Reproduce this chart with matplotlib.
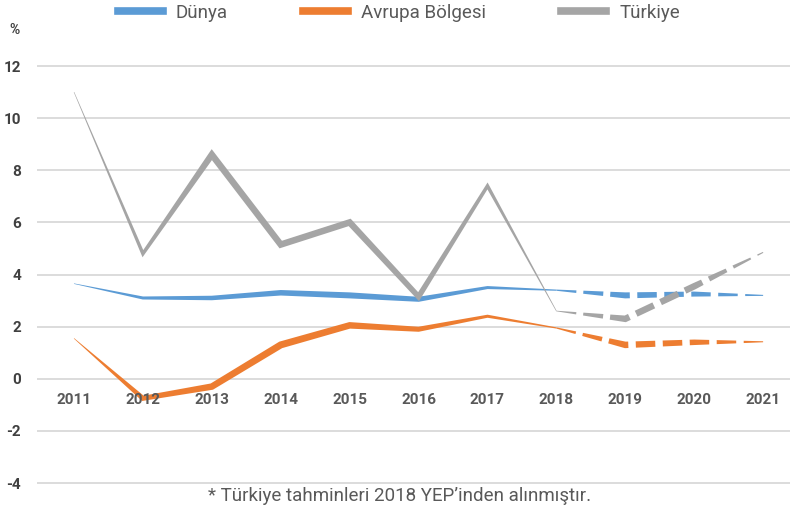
import numpy as np
import matplotlib
matplotlib.use("Agg")
import matplotlib.pyplot as plt
from matplotlib.lines import Line2D

# --- data (% growth) ---
years = [2011, 2012, 2013, 2014, 2015, 2016, 2017, 2018, 2019, 2020, 2021]
dunya = [3.65, 3.1, 3.1, 3.3, 3.2, 3.05, 3.5, 3.4, 3.2, 3.25, 3.2]
avrupa = [1.55, -0.75, -0.3, 1.3, 2.05, 1.9, 2.4, 1.95, 1.3, 1.4, 1.42]
turkiye = [11.0, 4.8, 8.6, 5.15, 6.0, 3.15, 7.4, 2.6, 2.3, 3.55, 4.85]
series_names = ["Dünya", "Avrupa Bölgesi", "Türkiye"]
yticks = [-4, -2, 0, 2, 4, 6, 8, 10, 12]
forecast_start = 2018
footnote = "* Türkiye tahminleri 2018 YEP\u2019inden alınmıştır."

# --- style ---
colors = ["#5b9bd5", "#ed7d31", "#a5a5a5"]
# stroke width (px) at each point; the original line tapers in and out
widths = [
    [0.5, 3, 4.5, 5.5, 6, 5, 3, 1.2, 6, 5, 1],
    [0.5, 5, 6.5, 7, 6.5, 5, 3, 1.2, 6.5, 5.5, 1],
    [0.5, 3.5, 6.5, 6.5, 6.5, 5.5, 3.5, 0.6, 6.5, 6.5, 1],
]
DASH, GAP = 20.0, 7.0
txt_color = "#595959"
DPI = 100

fig = plt.figure(figsize=(7.9, 5.13), dpi=DPI)
ax = fig.add_axes([37 / 790, 0.0483, 1 - 37 / 790, 0.8331])
ax.set_xlim(2010.463, 2021.39)
ax.set_ylim(-4.2, 12.2)
for s in ax.spines.values():
    s.set_visible(False)
ax.set_xticks([])
ax.set_yticks(yticks)
ax.set_yticklabels([str(t) for t in yticks], fontfamily="Roboto", fontweight="bold",
                   fontsize=11, color="#404040")
ax.tick_params(axis="y", length=0, pad=11.5)
ax.grid(axis="y", color="#d9d9d9", linewidth=1.3)
ax.set_axisbelow(True)

for yr in years:
    ax.text(yr, -0.82, str(yr), ha="center", va="center", fontfamily="Roboto",
            fontweight="bold", fontsize=11, color=txt_color)

fig.text(14 / 790, 1 - 30 / 513, "%", ha="center", va="center", fontfamily="Roboto",
         fontweight="bold", fontsize=10, color="#404040")


def tapered_line(ax, xs, ys, ws, color, dash_from):
    """Stroke a polyline whose width varies per vertex, dashed after dash_from."""
    xs = np.asarray(xs, float)
    P = ax.transData.transform(np.column_stack([xs, ys]))
    d = np.diff(P, axis=0)
    seg_len = np.hypot(d[:, 0], d[:, 1])
    tang = d / seg_len[:, None]
    nrm = np.column_stack([-tang[:, 1], tang[:, 0]])

    pts, s_all, w_all, n_all = [], [], [], []
    s0 = 0.0
    for i in range(len(P) - 1):
        ts = np.arange(0, seg_len[i], 0.5) / seg_len[i]
        for t in ts:
            if t == 0:
                if i == 0:
                    nv = nrm[0]
                else:
                    b = nrm[i - 1] + nrm[i]
                    b = b / np.hypot(*b)
                    nv = b / max(np.dot(b, nrm[i]), 0.35)
            else:
                nv = nrm[i]
            pts.append(P[i] + t * d[i])
            s_all.append(s0 + t * seg_len[i])
            w_all.append(ws[i] + t * (ws[i + 1] - ws[i]))
            n_all.append(nv)
        s0 += seg_len[i]
    pts.append(P[-1]); s_all.append(s0); w_all.append(ws[-1]); n_all.append(nrm[-1])
    pts, s_all = np.array(pts), np.array(s_all)
    w_all, n_all = np.array(w_all), np.array(n_all)

    k = list(xs).index(dash_from)
    s_dash = seg_len[:k].sum()
    runs = [s_all <= s_dash + 0.25]
    a = s_dash
    while a < s0:
        runs.append((s_all >= a) & (s_all <= a + DASH))
        a += DASH + GAP

    inv = ax.transData.inverted()
    for m in runs:
        if m.sum() < 2:
            continue
        p, w, nv = pts[m], w_all[m], n_all[m]
        left = p + nv * (w / 2)[:, None]
        right = p - nv * (w / 2)[:, None]
        poly = inv.transform(np.vstack([left, right[::-1]]))
        ax.fill(poly[:, 0], poly[:, 1], color=color, lw=0)


for vals, c, w in zip([dunya, avrupa, turkiye], colors, widths):
    tapered_line(ax, years, vals, w, c, forecast_start)

handles = [Line2D([], [], color=c, linewidth=5.5) for c in colors]
fig.legend(handles, series_names, loc="center", bbox_to_anchor=(0.505, 1 - 13 / 513),
           ncol=3, frameon=False, handlelength=2.4, handletextpad=0.7,
           columnspacing=4.0, prop={"family": "Roboto", "size": 13.5},
           labelcolor=txt_color)

fig.text(400 / 790, 1 - 496 / 513, footnote, ha="center", va="center",
         fontfamily="Roboto", fontsize=13.5, color=txt_color)

fig.savefig("out.png", dpi=DPI)
